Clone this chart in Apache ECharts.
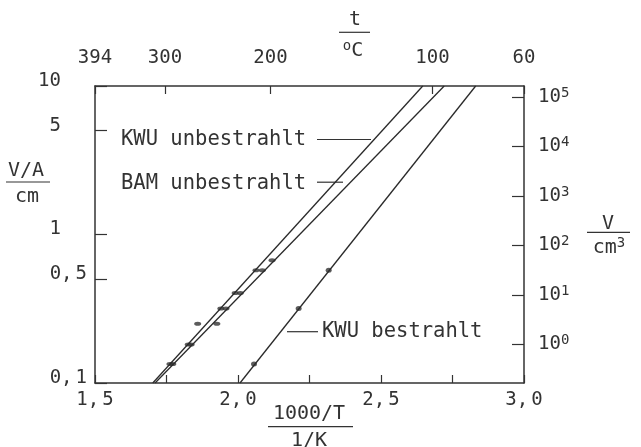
<!DOCTYPE html>
<html><head><meta charset="utf-8">
<script src="https://cdn.jsdelivr.net/npm/echarts@6/dist/echarts.min.js"></script>
<style>html,body{margin:0;padding:0;background:#fff}#c{width:641px;height:447px}</style>
</head><body><div id="c"></div>
<script>
// ---- data ----
const bottomLabelValues = [1.5, 2.0, 2.5, 3.0];
const bottomLabelTexts = ['1, 5', '2, 0', '2, 5', '3, 0'];
const leftTickValues = [0.1, 0.5, 1, 5, 10];
const leftTickTexts = ['0, 1', '0, 5', '1', '5', '10'];
const rightTickExponents = [0, 1, 2, 3, 4, 5];
const rightMinExp = -0.78, rightMaxExp = 5.22;
const topTempLabels = [394, 300, 200, 100, 60];

// fitted lines (1000/T, V/A per cm)
const kwuUnLineX = [1.702, 2.646], kwuUnLineY = [0.1, 10];
const bamUnLineX = [1.710, 2.721], bamUnLineY = [0.1, 10];
const kwuBeLineX = [2.007, 2.831], kwuBeLineY = [0.1, 10];
// measured points
const kwuUnPtsX = [1.762, 1.826, 1.859, 1.940, 1.990, 2.063];
const kwuUnPtsY = [0.134, 0.182, 0.251, 0.317, 0.404, 0.575];
const bamUnPtsX = [1.772, 1.836, 1.926, 1.958, 2.008, 2.085, 2.119];
const bamUnPtsY = [0.134, 0.182, 0.251, 0.317, 0.404, 0.575, 0.672];
const kwuBePtsX = [2.056, 2.212, 2.317];
const kwuBePtsY = [0.134, 0.317, 0.575];

// ---- helpers ----
const FONT = '"DejaVu Sans Mono", monospace';
const INK = '#333';
const zip = (a, b) => a.map((v, i) => [v, b[i]]);
const near = (a, b) => Math.abs(a - b) <= 1e-6 * Math.max(1, Math.abs(b));
const topTickPos = topTempLabels.map(t => Math.max(1.5, Math.min(3.0, 1000 / (t + 273.15))));
function decRich(s, tok) {
  const p = s.split(', ');
  if (p.length === 2) return '{' + tok + '|' + p[0] + ',}{sp| }{' + tok + '|' + p[1] + '}';
  return null;
}
const axLine = {show: true, lineStyle: {color: INK, width: 1.5}};
const tickStyle = {color: INK, width: 1.2};
const annFont = '20.5px ' + FONT;

const chart = echarts.init(document.getElementById('c'), null, {renderer: 'canvas'});
chart.setOption({
  animation: false,
  backgroundColor: '#fff',
  grid: {left: 95, right: 117, top: 86, bottom: 64, containLabel: false},
  xAxis: [{
    type: 'value', position: 'bottom', min: 1.5, max: 3.0, interval: 0.25,
    axisLine: axLine,
    axisTick: {show: true, inside: true, length: 8, lineStyle: tickStyle},
    splitLine: {show: false},
    axisLabel: {
      customValues: bottomLabelValues, margin: 8,
      formatter: v => {
        const i = bottomLabelValues.findIndex(t => near(v, t));
        return i < 0 ? '' : decRich(bottomLabelTexts[i], 'n');
      },
      rich: {
        n: {fontSize: 19, fontFamily: FONT, color: INK},
        sp: {fontSize: 5, fontFamily: FONT, color: INK}
      }
    }
  }, {
    type: 'value', position: 'top', min: 1.5, max: 3.0,
    axisLine: axLine,
    axisTick: {show: true, inside: true, length: 8, customValues: topTickPos, lineStyle: tickStyle},
    splitLine: {show: false},
    axisLabel: {
      customValues: topTickPos, margin: 18,
      fontSize: 19, fontFamily: FONT, color: INK,
      formatter: v => {
        const i = topTickPos.findIndex(t => near(v, t));
        return i < 0 ? '' : String(topTempLabels[i]);
      }
    }
  }],
  yAxis: [{
    type: 'log', logBase: 10, min: 0.1, max: 10, position: 'left',
    axisLine: axLine,
    axisTick: {show: true, inside: true, length: 12, customValues: leftTickValues, lineStyle: tickStyle},
    minorTick: {show: false},
    splitLine: {show: false},
    axisLabel: {
      customValues: leftTickValues, margin: 8,
      formatter: v => {
        const i = leftTickValues.findIndex(t => near(v, t));
        if (i < 0) return '';
        const s = leftTickTexts[i];
        return decRich(s, 'd') || ('{i|' + s + '}');
      },
      rich: {
        d: {fontSize: 19, fontFamily: FONT, color: INK, padding: [0, 0, 10, 0]},
        sp: {fontSize: 5, fontFamily: FONT, color: INK, padding: [0, 0, 10, 0]},
        i: {fontSize: 19, fontFamily: FONT, color: INK, padding: [0, 26, 10, 0]}
      }
    }
  }, {
    type: 'log', logBase: 10, min: Math.pow(10, rightMinExp), max: Math.pow(10, rightMaxExp), position: 'right',
    axisLine: axLine,
    axisTick: {show: true, inside: true, length: 12, customValues: rightTickExponents.map(e => Math.pow(10, e)), lineStyle: tickStyle},
    minorTick: {show: false},
    splitLine: {show: false},
    axisLabel: {
      customValues: rightTickExponents.map(e => Math.pow(10, e)), margin: 14,
      formatter: v => '{b|10}{s|' + Math.round(Math.log10(v)) + '}',
      rich: {
        b: {fontSize: 19, fontFamily: FONT, color: INK},
        s: {fontSize: 14, fontFamily: FONT, color: INK, padding: [0, 0, 8, 0]}
      }
    }
  }],
  series: [
    {name: 'KWU unbestrahlt', type: 'line', data: zip(kwuUnLineX, kwuUnLineY), symbol: 'none',
      lineStyle: {color: '#2a2a2a', width: 1.3}, silent: true},
    {name: 'BAM unbestrahlt', type: 'line', data: zip(bamUnLineX, bamUnLineY), symbol: 'none',
      lineStyle: {color: '#2a2a2a', width: 1.3}, silent: true},
    {name: 'KWU bestrahlt', type: 'line', data: zip(kwuBeLineX, kwuBeLineY), symbol: 'none',
      lineStyle: {color: '#2a2a2a', width: 1.3}, silent: true},
    {type: 'scatter', data: zip(kwuUnPtsX, kwuUnPtsY), symbol: 'circle', symbolSize: [7, 4], itemStyle: {color: '#333'}},
    {type: 'scatter', data: zip(bamUnPtsX, bamUnPtsY), symbol: 'circle', symbolSize: [7, 4], itemStyle: {color: '#333'}},
    {type: 'scatter', data: zip(kwuBePtsX, kwuBePtsY), symbol: 'circle', symbolSize: [6, 5], itemStyle: {color: '#333'}}
  ],
  graphic: [
    // annotations
    {type: 'text', x: 121, y: 140, style: {text: 'KWU unbestrahlt', font: annFont, fill: INK, align: 'left', verticalAlign: 'middle'}},
    {type: 'line', shape: {x1: 317, y1: 139.5, x2: 371, y2: 139.5}, style: {stroke: INK, lineWidth: 1.2}},
    {type: 'text', x: 121, y: 183.5, style: {text: 'BAM unbestrahlt', font: annFont, fill: INK, align: 'left', verticalAlign: 'middle'}},
    {type: 'line', shape: {x1: 317, y1: 182.2, x2: 343, y2: 182.2}, style: {stroke: INK, lineWidth: 1.2}},
    {type: 'text', x: 322, y: 331.5, style: {text: 'KWU bestrahlt', font: annFont, fill: INK, align: 'left', verticalAlign: 'middle'}},
    {type: 'line', shape: {x1: 287, y1: 331.7, x2: 318, y2: 331.7}, style: {stroke: INK, lineWidth: 1.2}},
    // left axis name
    {type: 'text', x: 26, y: 171, style: {text: 'V/A', font: '20px ' + FONT, fill: INK, align: 'center', verticalAlign: 'middle'}},
    {type: 'line', shape: {x1: 6, y1: 182, x2: 50, y2: 182}, style: {stroke: INK, lineWidth: 1.2}},
    {type: 'text', x: 27, y: 197, style: {text: 'cm', font: '20px ' + FONT, fill: INK, align: 'center', verticalAlign: 'middle'}},
    // top axis name
    {type: 'text', x: 355, y: 20, style: {text: 't', font: '20px ' + FONT, fill: INK, align: 'center', verticalAlign: 'middle'}},
    {type: 'line', shape: {x1: 339, y1: 32.3, x2: 370, y2: 32.3}, style: {stroke: INK, lineWidth: 1.2}},
    {type: 'text', x: 353, y: 51, style: {text: '{s|o}{b|C}', align: 'center', verticalAlign: 'middle',
      rich: {s: {fontSize: 14, fontFamily: FONT, fill: INK, padding: [0, 0, 10, 0]}, b: {fontSize: 20, fontFamily: FONT, fill: INK}}}},
    // right axis name
    {type: 'text', x: 608, y: 224, style: {text: 'V', font: '20px ' + FONT, fill: INK, align: 'center', verticalAlign: 'middle'}},
    {type: 'line', shape: {x1: 587, y1: 232.3, x2: 630, y2: 232.3}, style: {stroke: INK, lineWidth: 1.2}},
    {type: 'text', x: 609, y: 248, style: {text: '{b|cm}{s|3}', align: 'center', verticalAlign: 'middle',
      rich: {b: {fontSize: 20, fontFamily: FONT, fill: INK}, s: {fontSize: 14, fontFamily: FONT, fill: INK, padding: [0, 0, 10, 0]}}}},
    // bottom axis name
    {type: 'text', x: 309, y: 414, style: {text: '1000/T', font: '20px ' + FONT, fill: INK, align: 'center', verticalAlign: 'middle'}},
    {type: 'line', shape: {x1: 268, y1: 426.7, x2: 353, y2: 426.7}, style: {stroke: INK, lineWidth: 1.2}},
    {type: 'text', x: 309, y: 441, style: {text: '1/K', font: '20px ' + FONT, fill: INK, align: 'center', verticalAlign: 'middle'}}
  ]
});
</script>
</body></html>
